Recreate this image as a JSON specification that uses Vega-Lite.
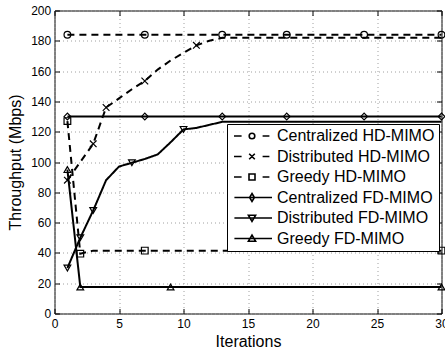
{
  "$schema": "https://vega.github.io/schema/vega-lite/v6.json",
  "width": 387,
  "height": 303,
  "autosize": {"type": "none"},
  "padding": {"left": 54.5, "top": 10.5, "right": 3.5, "bottom": 36.5},
  "config": {
    "font": "Liberation Sans",
    "view": {"stroke": "black", "strokeWidth": 1},
    "axis": {
      "labelFont": "Liberation Sans",
      "labelFontSize": 12,
      "labelColor": "black",
      "titleFont": "Liberation Sans",
      "titleFontSize": 16,
      "titleFontWeight": "normal",
      "titleColor": "black",
      "tickColor": "black",
      "tickSize": -5,
      "domain": false,
      "labelFlush": false,
      "labelOverlap": false
    }
  },
  "datasets": {
    "curve": [
      {"s": "Centralized HD-MIMO", "x": 1, "y": 184},
      {"s": "Centralized HD-MIMO", "x": 30, "y": 184},
      {"s": "Distributed HD-MIMO", "x": 1, "y": 88},
      {"s": "Distributed HD-MIMO", "x": 2, "y": 100},
      {"s": "Distributed HD-MIMO", "x": 3, "y": 112},
      {"s": "Distributed HD-MIMO", "x": 4, "y": 136},
      {"s": "Distributed HD-MIMO", "x": 5, "y": 142},
      {"s": "Distributed HD-MIMO", "x": 6, "y": 148},
      {"s": "Distributed HD-MIMO", "x": 7, "y": 153.5},
      {"s": "Distributed HD-MIMO", "x": 8, "y": 161},
      {"s": "Distributed HD-MIMO", "x": 9, "y": 167},
      {"s": "Distributed HD-MIMO", "x": 10, "y": 172},
      {"s": "Distributed HD-MIMO", "x": 11, "y": 177},
      {"s": "Distributed HD-MIMO", "x": 12, "y": 180},
      {"s": "Distributed HD-MIMO", "x": 13, "y": 182},
      {"s": "Distributed HD-MIMO", "x": 30, "y": 182},
      {"s": "Greedy HD-MIMO", "x": 1, "y": 127},
      {"s": "Greedy HD-MIMO", "x": 2, "y": 39.5},
      {"s": "Greedy HD-MIMO", "x": 3, "y": 41.5},
      {"s": "Greedy HD-MIMO", "x": 30, "y": 41.5},
      {"s": "Centralized FD-MIMO", "x": 1, "y": 130},
      {"s": "Centralized FD-MIMO", "x": 30, "y": 130},
      {"s": "Distributed FD-MIMO", "x": 1, "y": 30},
      {"s": "Distributed FD-MIMO", "x": 2, "y": 50},
      {"s": "Distributed FD-MIMO", "x": 3, "y": 68},
      {"s": "Distributed FD-MIMO", "x": 4, "y": 88},
      {"s": "Distributed FD-MIMO", "x": 5, "y": 97},
      {"s": "Distributed FD-MIMO", "x": 6, "y": 99.5},
      {"s": "Distributed FD-MIMO", "x": 7, "y": 102},
      {"s": "Distributed FD-MIMO", "x": 8, "y": 105},
      {"s": "Distributed FD-MIMO", "x": 9, "y": 113},
      {"s": "Distributed FD-MIMO", "x": 10, "y": 121.5},
      {"s": "Distributed FD-MIMO", "x": 11, "y": 122.5},
      {"s": "Distributed FD-MIMO", "x": 12, "y": 124.5},
      {"s": "Distributed FD-MIMO", "x": 13, "y": 126.5},
      {"s": "Distributed FD-MIMO", "x": 30, "y": 126.5},
      {"s": "Greedy FD-MIMO", "x": 1, "y": 95},
      {"s": "Greedy FD-MIMO", "x": 2, "y": 17.5},
      {"s": "Greedy FD-MIMO", "x": 30, "y": 17.5}
    ],
    "marks": [
      {"s": "Centralized HD-MIMO", "x": 1, "y": 184},
      {"s": "Centralized HD-MIMO", "x": 7, "y": 184},
      {"s": "Centralized HD-MIMO", "x": 13, "y": 184},
      {"s": "Centralized HD-MIMO", "x": 18, "y": 184},
      {"s": "Centralized HD-MIMO", "x": 24, "y": 184},
      {"s": "Centralized HD-MIMO", "x": 30, "y": 184},
      {"s": "Distributed HD-MIMO", "x": 1, "y": 88},
      {"s": "Distributed HD-MIMO", "x": 3, "y": 112},
      {"s": "Distributed HD-MIMO", "x": 4, "y": 136},
      {"s": "Distributed HD-MIMO", "x": 7, "y": 153.5},
      {"s": "Distributed HD-MIMO", "x": 11, "y": 177},
      {"s": "Greedy HD-MIMO", "x": 1, "y": 127},
      {"s": "Greedy HD-MIMO", "x": 2, "y": 39.5},
      {"s": "Greedy HD-MIMO", "x": 7, "y": 41.5},
      {"s": "Greedy HD-MIMO", "x": 30, "y": 41.5},
      {"s": "Centralized FD-MIMO", "x": 1, "y": 130},
      {"s": "Centralized FD-MIMO", "x": 7, "y": 130},
      {"s": "Centralized FD-MIMO", "x": 13, "y": 130},
      {"s": "Centralized FD-MIMO", "x": 18, "y": 130},
      {"s": "Centralized FD-MIMO", "x": 24, "y": 130},
      {"s": "Centralized FD-MIMO", "x": 30, "y": 130},
      {"s": "Distributed FD-MIMO", "x": 1, "y": 30},
      {"s": "Distributed FD-MIMO", "x": 2, "y": 50},
      {"s": "Distributed FD-MIMO", "x": 3, "y": 68},
      {"s": "Distributed FD-MIMO", "x": 6, "y": 99.5},
      {"s": "Distributed FD-MIMO", "x": 10, "y": 121.5},
      {"s": "Greedy FD-MIMO", "x": 1, "y": 95},
      {"s": "Greedy FD-MIMO", "x": 2, "y": 17.5},
      {"s": "Greedy FD-MIMO", "x": 9, "y": 17.5},
      {"s": "Greedy FD-MIMO", "x": 30, "y": 17.5}
    ]
  },
  "layer": [
    {
      "data": {"name": "curve"},
      "mark": {"type": "line", "color": "black", "strokeWidth": 2, "clip": false},
      "encoding": {
        "x": {
          "field": "x", "type": "quantitative",
          "scale": {"domain": [0, 30], "nice": false, "zero": false},
          "axis": {
            "orient": "bottom", "title": "Iterations",
            "values": [0, 5, 10, 15, 20, 25, 30],
            "grid": true, "gridColor": "#a0a0a0", "gridDash": [1, 3], "gridWidth": 1,
            "labelPadding": 9.5, "titleBaseline": "alphabetic", "titleY": 32.5
          }
        },
        "y": {
          "field": "y", "type": "quantitative",
          "scale": {"domain": [0, 200], "nice": false},
          "axis": {
            "orient": "left", "title": "Throughput (Mbps)",
            "values": [0, 20, 40, 60, 80, 100, 120, 140, 160, 180, 200],
            "grid": true, "gridColor": "#a0a0a0", "gridDash": [1, 3], "gridWidth": 1,
            "labelPadding": 8.8, "titleBaseline": "alphabetic", "titleX": -34
          }
        },
        "strokeDash": {
          "field": "s", "type": "nominal",
          "scale": {
            "domain": ["Centralized HD-MIMO", "Distributed HD-MIMO", "Greedy HD-MIMO", "Centralized FD-MIMO", "Distributed FD-MIMO", "Greedy FD-MIMO"],
            "range": [[7, 5], [7, 5], [7, 5], [1, 0], [1, 0], [1, 0]]
          },
          "legend": null
        }
      }
    },
    {
      "data": {"name": "marks"},
      "mark": {"type": "point", "filled": false, "color": "black", "opacity": 1, "strokeWidth": 1.2, "size": 45, "clip": false},
      "encoding": {
        "x": {
          "field": "x", "type": "quantitative",
          "axis": {"orient": "top", "title": null, "labels": false, "grid": false, "values": [0, 5, 10, 15, 20, 25, 30]}
        },
        "y": {
          "field": "y", "type": "quantitative",
          "axis": {"orient": "right", "title": null, "labels": false, "grid": false, "values": [0, 20, 40, 60, 80, 100, 120, 140, 160, 180, 200]}
        },
        "shape": {
          "field": "s", "type": "nominal",
          "scale": {
            "domain": ["Centralized HD-MIMO", "Distributed HD-MIMO", "Greedy HD-MIMO", "Centralized FD-MIMO", "Distributed FD-MIMO", "Greedy FD-MIMO"],
            "range": ["circle", "M-1,-1L1,1M-1,1L1,-1", "square", "diamond", "triangle-down", "triangle-up"]
          },
          "legend": null
        }
      }
    },
    {
      "data": {"name": "curve"},
      "transform": [{"filter": "false"}],
      "mark": {"type": "point", "filled": false, "color": "black", "opacity": 1},
      "encoding": {
        "shape": {
          "field": "s", "type": "nominal",
          "scale": {
            "domain": ["Centralized HD-MIMO", "Distributed HD-MIMO", "Greedy HD-MIMO", "Centralized FD-MIMO", "Distributed FD-MIMO", "Greedy FD-MIMO"],
            "range": [
              "M-0.9,0H-0.52M0.53,0H0.87M-0.14,0A0.14,0.14,0,1,1,0.14,0A0.14,0.14,0,1,1,-0.14,0Z",
              "M-0.9,0H-0.52M0.53,0H0.87M-0.14,-0.14L0.14,0.14M-0.14,0.14L0.14,-0.14",
              "M-0.9,0H-0.52M0.53,0H0.87M-0.15,-0.15H0.15V0.15H-0.15Z",
              "M-0.88,0H1M0,-0.2L0.12,0L0,0.2L-0.12,0Z",
              "M-0.88,0H1M-0.18,-0.14H0.18L0,0.17Z",
              "M-0.88,0H1M-0.18,0.14H0.18L0,-0.17Z"
            ]
          },
          "legend": {
            "title": null,
            "orient": "none",
            "legendX": 172.5,
            "legendY": 113.5,
            "padding": 4,
            "strokeColor": "black",
            "fillColor": "white",
            "cornerRadius": 0,
            "symbolSize": 1600,
            "clipHeight": 16,
            "rowPadding": 4.5,
            "labelOffset": 4,
            "labelFont": "Liberation Sans",
            "labelFontSize": 16,
            "labelColor": "black",
            "labelLimit": 400,
            "symbolStrokeColor": "black",
            "symbolFillColor": "transparent",
            "symbolStrokeWidth": 1.6,
            "symbolOpacity": 1
          }
        }
      }
    }
  ],
  "resolve": {
    "scale": {"shape": "independent"},
    "axis": {"x": "independent", "y": "independent"}
  }
}
